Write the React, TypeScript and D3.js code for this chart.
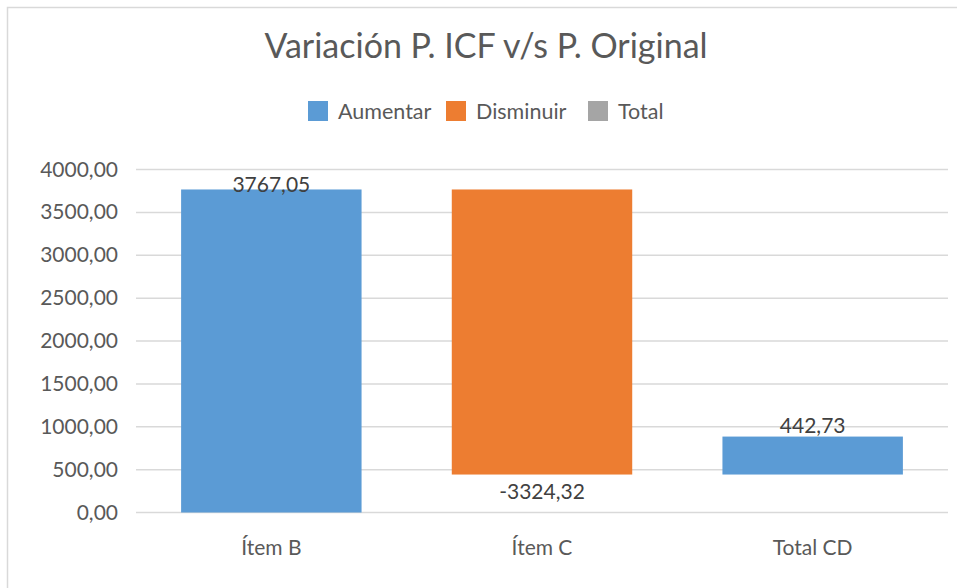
import { useEffect, useRef } from 'react';
import * as d3 from 'd3';

const categories = ['Ítem B', 'Ítem C', 'Total CD'];
const deltas = [3767.05, -3324.32, 442.73];
const barBases = [0, 442.73, 442.73];
const barKinds = ['Aumentar', 'Disminuir', 'Aumentar'];
const legendItems = ['Aumentar', 'Disminuir', 'Total'];
const yTicks = [0, 500, 1000, 1500, 2000, 2500, 3000, 3500, 4000];

const COLORS: Record<string, string> = {
  Aumentar: '#5B9BD5',
  Disminuir: '#ED7D31',
  Total: '#A5A5A5',
};

const FONT = 'Lato, "Open Sans", sans-serif';
const fmt = (v: number) => v.toFixed(2).replace('.', ',');

export default function App() {
  const svgRef = useRef<SVGSVGElement | null>(null);

  useEffect(() => {
    if (!svgRef.current) return;
    const W = 957;
    const H = 588;
    const M = { top: 170, right: 9, bottom: 75, left: 136 };

    const svg = d3.select(svgRef.current);
    svg.selectAll('*').remove();
    svg.attr('width', W).attr('height', H);

    svg.append('rect').attr('width', W).attr('height', H).attr('fill', '#fff');
    // outer chart frame
    svg.append('rect')
      .attr('x', 7.5).attr('y', 7.5)
      .attr('width', W + 20).attr('height', H + 20)
      .attr('fill', 'none').attr('stroke', '#d9d9d9').attr('stroke-width', 1.5);

    // Title
    svg.append('text')
      .attr('x', 486).attr('y', 58)
      .attr('text-anchor', 'middle')
      .attr('font-family', FONT)
      .attr('font-size', 34)
      .attr('fill', '#595959')
      .text('Variación P. ICF v/s P. Original');

    // Legend
    const legendX = [308, 446, 588];
    const lg = svg.append('g');
    legendItems.forEach((name, i) => {
      lg.append('rect')
        .attr('x', legendX[i]).attr('y', 101)
        .attr('width', 20).attr('height', 20)
        .attr('fill', COLORS[name]);
      lg.append('text')
        .attr('x', legendX[i] + 30).attr('y', 119)
        .attr('font-family', FONT)
        .attr('font-size', 21.5)
        .attr('fill', '#595959')
        .text(name);
    });

    const innerW = W - M.left - M.right;
    const x = d3.scaleBand().domain(categories).range([M.left, M.left + innerW]).padding(0);
    const y = d3.scaleLinear().domain([0, 4000]).range([512.5, 169.5]);

    // Gridlines
    svg.append('g')
      .selectAll('line')
      .data(yTicks)
      .join('line')
      .attr('x1', M.left).attr('x2', M.left + innerW)
      .attr('y1', d => y(d)).attr('y2', d => y(d))
      .attr('stroke', '#d9d9d9')
      .attr('stroke-width', 1.5);

    // Y labels
    svg.append('g')
      .selectAll('text')
      .data(yTicks)
      .join('text')
      .attr('x', 118)
      .attr('y', d => y(d) + 7)
      .attr('text-anchor', 'end')
      .attr('font-family', FONT)
      .attr('font-size', 21)
      .attr('fill', '#595959')
      .text(d => fmt(d));

    // Bars
    const bw = x.bandwidth() / 1.5;
    const bars = categories.map((c, i) => {
      const start = barBases[i];
      const hi = start + Math.abs(deltas[i]);
      return { c, lo: start, hi, kind: barKinds[i], v: deltas[i] };
    });

    svg.append('g')
      .selectAll('rect')
      .data(bars)
      .join('rect')
      .attr('x', d => (x(d.c) as number) + (x.bandwidth() - bw) / 2)
      .attr('width', bw)
      .attr('y', d => y(d.hi))
      .attr('height', d => y(d.lo) - y(d.hi))
      .attr('fill', d => COLORS[d.kind]);

    // Value labels (kept inside plot area, like Excel does)
    svg.append('g')
      .selectAll('text')
      .data(bars)
      .join('text')
      .attr('x', d => (x(d.c) as number) + x.bandwidth() / 2)
      .attr('y', d => (d.v < 0 ? y(d.lo) + 24 : Math.max(y(d.hi) - 4, y(4000) + 22)))
      .attr('text-anchor', 'middle')
      .attr('font-family', FONT)
      .attr('font-size', 21)
      .attr('fill', '#404040')
      .text(d => fmt(d.v));

    // X labels
    svg.append('g')
      .selectAll('text')
      .data(categories)
      .join('text')
      .attr('x', d => (x(d) as number) + x.bandwidth() / 2)
      .attr('y', 555)
      .attr('text-anchor', 'middle')
      .attr('font-family', FONT)
      .attr('font-size', 21)
      .attr('fill', '#595959')
      .text(d => d);
  }, []);

  return (
    <svg ref={svgRef} style={{ display: 'block', position: 'fixed', left: 0, top: 0 }} />
  );
}
